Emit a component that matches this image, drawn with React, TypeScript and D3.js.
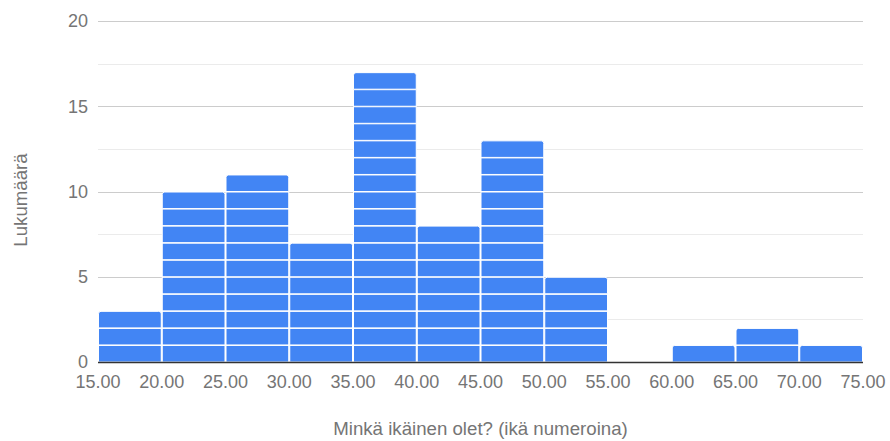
import React from "react";
import * as d3 from "d3";

const binStarts = [15, 20, 25, 30, 35, 40, 45, 50, 55, 60, 65, 70];
const binWidth = 5;
const counts = [3, 10, 11, 7, 17, 8, 13, 5, 0, 1, 2, 1];
const xTicks = [15, 20, 25, 30, 35, 40, 45, 50, 55, 60, 65, 70, 75];
const yMajor = [0, 5, 10, 15, 20];
const yMinor = [2.5, 7.5, 12.5, 17.5];
const xTitle = "Minkä ikäinen olet? (ikä numeroina)";
const yTitle = "Lukumäärä";

const W = 890;
const H = 441;
const FONT = "'Liberation Sans', Arial, sans-serif";

function topRoundedRect(x: number, y: number, w: number, h: number, r: number) {
  return `M${x},${y + h} L${x},${y + r} Q${x},${y} ${x + r},${y} L${x + w - r},${y} Q${x + w},${y} ${x + w},${y + r} L${x + w},${y + h} Z`;
}

export default function App() {
  const x = d3.scaleLinear().domain([15, 75]).range([98, 863]);
  const y = d3.scaleLinear().domain([0, 20]).range([362, 21]);
  const fmt = d3.format(".2f");

  const cells: React.ReactNode[] = [];
  binStarts.forEach((b, i) => {
    const x0 = x(b);
    const x1 = x(b + binWidth);
    for (let k = 0; k < counts[i]; k++) {
      const yt = y(k + 1);
      const yb = y(k);
      const isTop = k === counts[i] - 1;
      const rx = x0 + 0.5;
      const rw = x1 - x0 - 1;
      const ry = yt + 0.5;
      const rh = yb - yt - 1;
      if (isTop) {
        cells.push(
          <path key={`${i}-${k}`} d={topRoundedRect(rx, ry, rw, rh + 0.5, 2.5)} fill="#4285f4" stroke="#ffffff" strokeWidth={1} />
        );
      } else {
        cells.push(
          <rect key={`${i}-${k}`} x={rx} y={ry} width={rw} height={rh + 0.5} fill="#4285f4" stroke="#ffffff" strokeWidth={1} />
        );
      }
    }
  });

  return (
    <svg width={W} height={H} style={{ position: "absolute", left: 0, top: 0, background: "#fff" }}>
      <rect x={0} y={0} width={W} height={H} fill="#fff" />
      {yMinor.map((v) => (
        <line key={`mi${v}`} x1={x(15)} x2={x(75)} y1={Math.round(y(v)) + 0.5} y2={Math.round(y(v)) + 0.5} stroke="#ebebeb" strokeWidth={1} />
      ))}
      {yMajor.filter((v) => v !== 0).map((v) => (
        <line key={`ma${v}`} x1={x(15)} x2={x(75)} y1={Math.round(y(v)) + 0.5} y2={Math.round(y(v)) + 0.5} stroke="#cccccc" strokeWidth={1} />
      ))}
      {cells}
      <line x1={x(15)} x2={x(75)} y1={y(0) + 0.5} y2={y(0) + 0.5} stroke="#333333" strokeWidth={1.5} />
      {yMajor.map((v) => (
        <text key={`yl${v}`} x={88} y={y(v)} dy="0.35em" textAnchor="end" fontFamily={FONT} fontSize={18} fill="#757575">
          {v}
        </text>
      ))}
      {xTicks.map((v) => (
        <text key={`xl${v}`} x={x(v)} y={388} textAnchor="middle" fontFamily={FONT} fontSize={18} fill="#757575">
          {fmt(v)}
        </text>
      ))}
      <text x={(x(15) + x(75)) / 2} y={435} textAnchor="middle" fontFamily={FONT} fontSize={18.67} fill="#757575">
        {xTitle}
      </text>
      <text transform={`translate(27,200) rotate(-90)`} textAnchor="middle" fontFamily={FONT} fontSize={18.67} fill="#757575">
        {yTitle}
      </text>
    </svg>
  );
}
